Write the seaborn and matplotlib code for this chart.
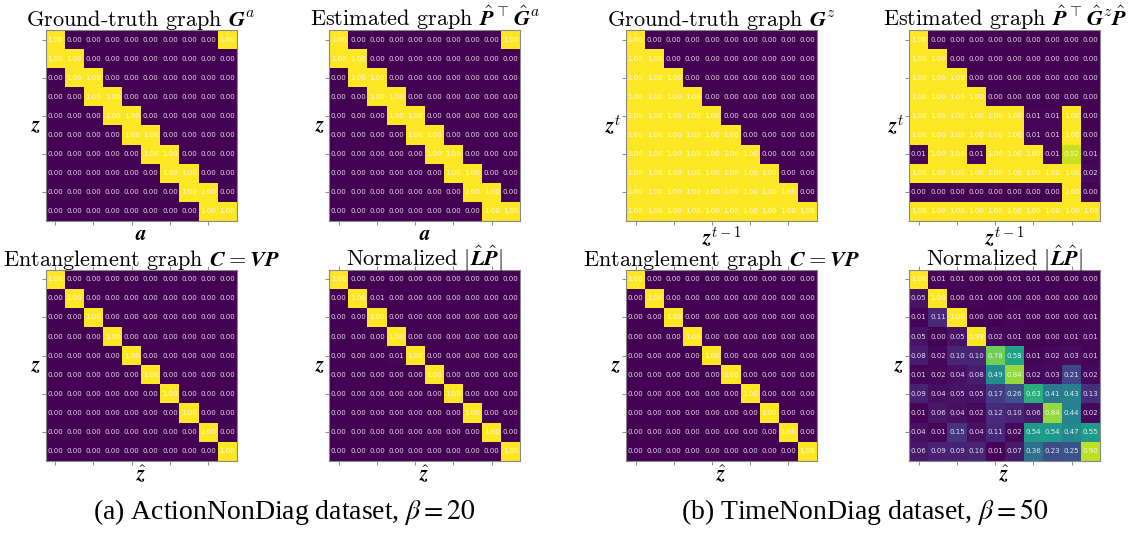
import numpy as np
import matplotlib
matplotlib.use("Agg")
import matplotlib.pyplot as plt
import seaborn as sns

# ---- data ----
n = 10

# ground truth / estimated action graph: diagonal + sub-diagonal, plus corner (0, 9)
G_a = [
    [1, 0, 0, 0, 0, 0, 0, 0, 0, 1],
    [1, 1, 0, 0, 0, 0, 0, 0, 0, 0],
    [0, 1, 1, 0, 0, 0, 0, 0, 0, 0],
    [0, 0, 1, 1, 0, 0, 0, 0, 0, 0],
    [0, 0, 0, 1, 1, 0, 0, 0, 0, 0],
    [0, 0, 0, 0, 1, 1, 0, 0, 0, 0],
    [0, 0, 0, 0, 0, 1, 1, 0, 0, 0],
    [0, 0, 0, 0, 0, 0, 1, 1, 0, 0],
    [0, 0, 0, 0, 0, 0, 0, 1, 1, 0],
    [0, 0, 0, 0, 0, 0, 0, 0, 1, 1],
]
G_a_est = [row[:] for row in G_a]

G_z = [
    [1, 0, 0, 0, 0, 0, 0, 0, 0, 0],
    [1, 1, 0, 0, 0, 0, 0, 0, 0, 0],
    [1, 1, 1, 0, 0, 0, 0, 0, 0, 0],
    [1, 1, 1, 1, 0, 0, 0, 0, 0, 0],
    [1, 1, 1, 1, 1, 0, 0, 0, 0, 0],
    [1, 1, 1, 1, 1, 1, 0, 0, 0, 0],
    [1, 1, 1, 1, 1, 1, 1, 0, 0, 0],
    [1, 1, 1, 1, 1, 1, 1, 1, 0, 0],
    [1, 1, 1, 1, 1, 1, 1, 1, 1, 0],
    [1, 1, 1, 1, 1, 1, 1, 1, 1, 1],
]

G_z_est = [
    [1.00, 0.00, 0.00, 0.00, 0.00, 0.00, 0.00, 0.00, 0.00, 0.00],
    [1.00, 1.00, 0.00, 0.00, 0.00, 0.00, 0.00, 0.00, 0.00, 0.00],
    [1.00, 1.00, 1.00, 0.00, 0.00, 0.00, 0.00, 0.00, 0.00, 0.00],
    [1.00, 1.00, 1.00, 1.00, 0.00, 0.00, 0.00, 0.00, 0.00, 0.00],
    [1.00, 1.00, 1.00, 1.00, 1.00, 1.00, 0.01, 0.01, 1.00, 0.00],
    [1.00, 1.00, 1.00, 1.00, 1.00, 1.00, 0.01, 0.01, 1.00, 0.00],
    [0.01, 1.00, 1.00, 0.01, 1.00, 1.00, 1.00, 0.01, 0.92, 0.01],
    [1.00, 1.00, 1.00, 1.00, 1.00, 1.00, 1.00, 1.00, 1.00, 0.02],
    [0.00, 0.00, 0.00, 0.00, 0.00, 0.00, 0.00, 0.00, 1.00, 0.00],
    [1.00, 1.00, 1.00, 1.00, 1.00, 1.00, 1.00, 1.00, 1.00, 1.00],
]

C_a = np.eye(n).tolist()
LP_a = np.eye(n)
LP_a[1, 2] = 0.01
LP_a[4, 3] = 0.01
LP_a = LP_a.tolist()

C_z = np.eye(n).tolist()
LP_z = [
    [1.00, 0.01, 0.01, 0.00, 0.00, 0.01, 0.01, 0.00, 0.00, 0.00],
    [0.05, 1.00, 0.00, 0.01, 0.00, 0.00, 0.00, 0.00, 0.00, 0.00],
    [0.01, 0.11, 1.00, 0.00, 0.00, 0.01, 0.00, 0.00, 0.00, 0.01],
    [0.05, 0.00, 0.05, 0.99, 0.02, 0.01, 0.00, 0.00, 0.01, 0.01],
    [0.08, 0.02, 0.10, 0.10, 0.78, 0.58, 0.01, 0.02, 0.03, 0.01],
    [0.01, 0.02, 0.04, 0.08, 0.49, 0.84, 0.02, 0.03, 0.21, 0.02],
    [0.09, 0.04, 0.05, 0.05, 0.17, 0.26, 0.63, 0.41, 0.43, 0.13],
    [0.01, 0.06, 0.04, 0.02, 0.12, 0.10, 0.06, 0.84, 0.44, 0.02],
    [0.04, 0.01, 0.15, 0.04, 0.11, 0.02, 0.54, 0.54, 0.47, 0.55],
    [0.06, 0.09, 0.09, 0.10, 0.01, 0.07, 0.36, 0.23, 0.25, 0.90],
]

titles = [
    r"Ground-truth graph $\boldsymbol{G}^a$",
    r"Estimated graph $\hat{\boldsymbol{P}}^\top\hat{\boldsymbol{G}}^a$",
    r"Ground-truth graph $\boldsymbol{G}^z$",
    r"Estimated graph $\hat{\boldsymbol{P}}^\top\hat{\boldsymbol{G}}^z\hat{\boldsymbol{P}}$",
    r"Entanglement graph $\boldsymbol{C} = \boldsymbol{V}\boldsymbol{P}$",
    r"Normalized $|\hat{\boldsymbol{L}}\hat{\boldsymbol{P}}|$",
    r"Entanglement graph $\boldsymbol{C} = \boldsymbol{V}\boldsymbol{P}$",
    r"Normalized $|\hat{\boldsymbol{L}}\hat{\boldsymbol{P}}|$",
]
xlabels = [r"$\boldsymbol{a}$", r"$\boldsymbol{a}$",
           r"$\boldsymbol{z}^{t-1}$", r"$\boldsymbol{z}^{t-1}$",
           r"$\hat{\boldsymbol{z}}$", r"$\hat{\boldsymbol{z}}$",
           r"$\hat{\boldsymbol{z}}$", r"$\hat{\boldsymbol{z}}$"]
ylabels = [r"$\boldsymbol{z}$", r"$\boldsymbol{z}$",
           r"$\boldsymbol{z}^t$", r"$\boldsymbol{z}^t$",
           r"$\boldsymbol{z}$", r"$\boldsymbol{z}$",
           r"$\boldsymbol{z}$", r"$\boldsymbol{z}$"]
matrices = [G_a, G_a_est, G_z, G_z_est, C_a, LP_a, C_z, LP_z]
captions = [r"(a) ActionNonDiag dataset, $\beta=20$",
            r"(b) TimeNonDiag dataset, $\beta=50$"]

# ---- figure ----
fig = plt.figure(figsize=(11.35, 5.33), dpi=100)

lefts = [0.0403, 0.2901, 0.5515, 0.8011]
bottoms = [0.5854, 0.1356]
w, h = 0.1683, 0.3583

for k, mat in enumerate(matrices):
    r, c = divmod(k, 4)
    ax = fig.add_axes([lefts[c], bottoms[r], w, h])
    sns.heatmap(np.array(mat, dtype=float), ax=ax, cmap="viridis", vmin=0, vmax=1,
                cbar=False, annot=True, fmt=".2f",
                annot_kws={"size": 5, "color": "white", "alpha": 0.85})
    ax.set_xticks(np.arange(0, n, 2) + 0.5)
    ax.set_yticks(np.arange(0, n, 2) + 0.5)
    ax.tick_params(length=3, width=0.6, color="#777777", top=(r == 1),
                   labelbottom=False, labelleft=False)
    for s in ax.spines.values():
        s.set_visible(True)
        s.set_color("#888888")
        s.set_linewidth(0.8)
    ax.set_title(titles[k], fontsize=16, fontfamily="cmr10", math_fontfamily="cm", pad=3)
    ax.set_xlabel(xlabels[k], fontsize=15, math_fontfamily="cm", labelpad=-1)
    ax.set_ylabel(ylabels[k], fontsize=15, math_fontfamily="cm", labelpad=0, rotation=0,
                  va="center", ha="right")

fig.text(0.251, 0.039, captions[0], ha="center", va="center", fontsize=20,
         fontfamily="Liberation Serif", math_fontfamily="stix")
fig.text(0.762, 0.039, captions[1], ha="center", va="center", fontsize=20,
         fontfamily="Liberation Serif", math_fontfamily="stix")

fig.savefig("out.png", dpi=100)
